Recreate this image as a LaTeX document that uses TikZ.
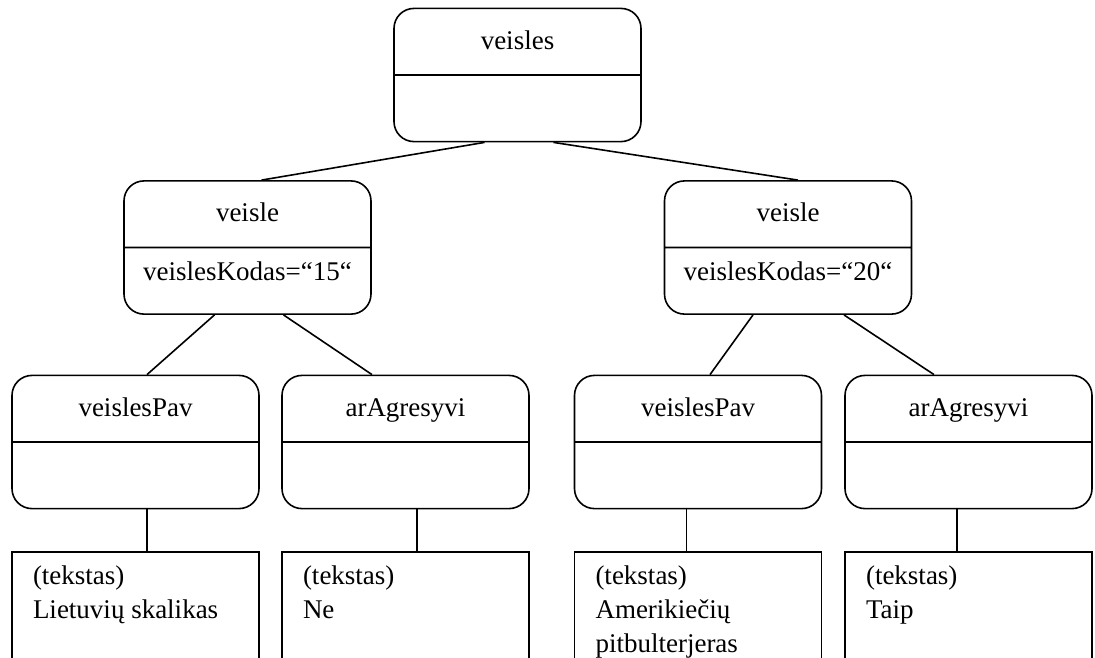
\documentclass[tikz,border=0pt]{standalone}
\usepackage{fontspec}
\setmainfont{Liberation Serif}
\usetikzlibrary{shapes.multipart}
\newcommand{\dalis}[2][40pt]{\parbox[c][65pt][t]{247pt}{\centering\rule{0pt}{#1}#2}}
\newcommand{\tekstas}[1]{\parbox[t][106pt][t]{205pt}{\raggedright\fontsize{27}{34}\selectfont #1}}

\begin{document}
\begin{tikzpicture}[x=1pt,y=-1pt,line width=1.6pt,font=\fontsize{27}{32}\selectfont,
  elem/.style={rectangle split,rectangle split parts=2,draw,rounded corners=20pt,inner sep=0pt},
  reiksme/.style={draw,anchor=north,minimum width=247pt,minimum height=130pt,inner xsep=21pt,inner ysep=14pt}]
\clip (0,0) rectangle (1095,657);
\node [elem] (z) at (517.5,75) {\dalis{veisles}\nodepart{two}\dalis{}};
\node [elem] (a) at (247.5,247.5) {\dalis{veisle}\nodepart{two}\dalis[32pt]{veislesKodas=“15“}};
\node [elem] (b) at (788,247.5) {\dalis{veisle}\nodepart{two}\dalis[32pt]{veislesKodas=“20“}};
\node [elem] (c) at (135.5,442) {\dalis{veislesPav}\nodepart{two}\dalis{}};
\node [elem] (d) at (405.5,442) {\dalis{arAgresyvi}\nodepart{two}\dalis{}};
\node [elem] (e) at (698,442) {\dalis{veislesPav}\nodepart{two}\dalis{}};
\node [elem] (f) at (968.5,442) {\dalis{arAgresyvi}\nodepart{two}\dalis{}};
\node [reiksme] (k) at (135.5,551) {\tekstas{(tekstas)\\Lietuvių skalikas}};
\node [reiksme] (l) at (405.5,551) {\tekstas{(tekstas)\\Ne}};
\node [reiksme] (m) at (698,551) {\tekstas{(tekstas)\\Amerikiečių\\pitbulterjeras}};
\node [reiksme] (n) at (968.5,551) {\tekstas{(tekstas)\\Taip}};
\draw ([xshift=-33pt]z.south) -- ([xshift=14pt]a.north);
\draw ([xshift=36pt]z.south) -- ([xshift=10pt]b.north);
\draw ([xshift=-33pt]a.south) -- ([xshift=11.5pt]c.north);
\draw ([xshift=36pt]a.south) -- ([xshift=-33.5pt]d.north);
\draw ([xshift=-35pt]b.south) -- ([xshift=12pt]e.north);
\draw ([xshift=56pt]b.south) -- ([xshift=-34.5pt]f.north);
\draw ([xshift=11.5pt]c.south) -- ([xshift=11.5pt]k.north);
\draw ([xshift=11.5pt]d.south) -- ([xshift=11.5pt]l.north);
\draw ([xshift=-11.5pt]e.south) -- ([xshift=-11.5pt]m.north);
\draw ([xshift=-11.5pt]f.south) -- ([xshift=-11.5pt]n.north);
\end{tikzpicture}
\end{document}
